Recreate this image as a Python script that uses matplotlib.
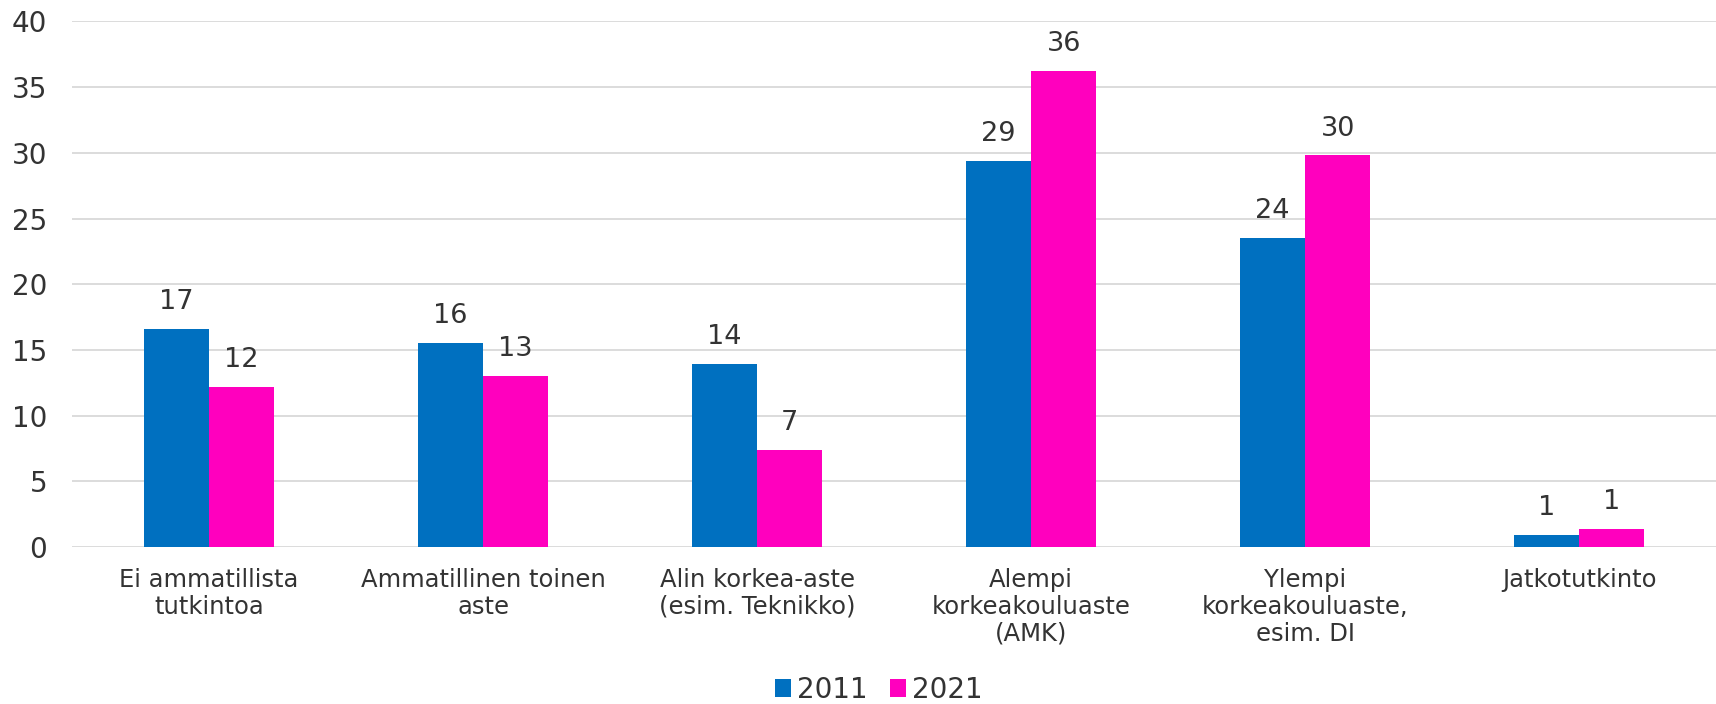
import matplotlib.pyplot as plt
import numpy as np

categories = ["Ei ammatillista\ntutkintoa", "Ammatillinen toinen\naste",
              "Alin korkea-aste\n(esim. Teknikko)", "Alempi\nkorkeakouluaste\n(AMK)",
              "Ylempi\nkorkeakouluaste,\nesim. DI", "Jatkotutkinto"]
v2011 = [16.6, 15.5, 13.9, 29.4, 23.5, 0.9]
v2021 = [12.2, 13.0, 7.4, 36.2, 29.8, 1.4]
series = ["2011", "2021"]
colors = ["#0070C0", "#FF00BE"]
txt = "#333333"

fig = plt.figure(figsize=(17.16, 7.04), dpi=100)
ax = fig.add_axes([0.042, 0.223, 0.958, 0.7465])

x = np.arange(len(categories))
w = 0.238
b1 = ax.bar(x - w/2, v2011, w, color=colors[0], label=series[0], zorder=3)
b2 = ax.bar(x + w/2, v2021, w, color=colors[1], label=series[1], zorder=3)
for bars in (b1, b2):
    for r in bars:
        h = r.get_height()
        ax.text(r.get_x() + r.get_width()/2, h + 2.05, f"{h:.0f}",
                ha="center", va="center", fontsize=19.5, color=txt)

ax.set_xlim(-0.5, 5.5)
ax.set_ylim(0, 40)
ax.set_yticks(range(0, 41, 5))
ax.set_xticks(x)
ax.set_xticklabels(categories, fontsize=17.5, color=txt, linespacing=1.15)
ax.tick_params(axis="y", labelsize=20, labelcolor=txt, length=0, pad=18)
ax.tick_params(axis="x", length=0, pad=15)
ax.grid(axis="y", color="#D9D9D9", linewidth=1.3, zorder=0)
for s in ax.spines.values():
    s.set_visible(False)

fig.legend(loc="center", bbox_to_anchor=(0.512, 0.02), ncol=2, frameon=False,
           fontsize=20, handlelength=0.6, handleheight=0.6, handletextpad=0.2,
           columnspacing=0.8, labelcolor=txt)

fig.savefig("out.png", dpi=100)
